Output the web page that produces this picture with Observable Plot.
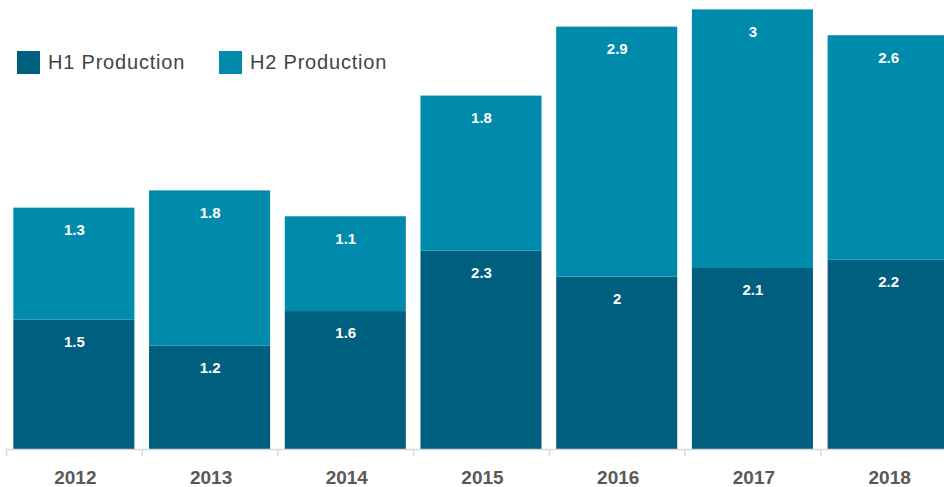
<!DOCTYPE html>
<html>
<head>
<meta charset="utf-8">
<script src="https://cdn.jsdelivr.net/npm/d3@7"></script>
<script src="https://cdn.jsdelivr.net/npm/@observablehq/plot@0.6"></script>
<style>
  html, body { margin: 0; padding: 0; background: #fff; overflow: hidden; }
  #wrap { position: relative; width: 944px; height: 487px; overflow: hidden; }
  #chart svg { max-width: none !important; display: block; }
  .legend { position: absolute; top: 51px; left: 17px; display: flex; align-items: center;
            font-family: "Liberation Sans", Arial, sans-serif; font-size: 20px; letter-spacing: 0.8px; color: #3f4448; }
  .legend .item { display: flex; align-items: center; }
  .legend .sw { width: 23px; height: 23px; margin-right: 8px; }
</style>
</head>
<body>
<div id="wrap">
  <div id="chart"></div>
  <div class="legend">
    <div class="item" style="width:202px"><div class="sw" style="background:#005e7e"></div><span>H1 Production</span></div>
    <div class="item"><div class="sw" style="background:#008bad"></div><span>H2 Production</span></div>
  </div>
</div>
<script>
const years = ["2012", "2013", "2014", "2015", "2016", "2017", "2018"];
const h1 = [1.5, 1.2, 1.6, 2.3, 2.0, 2.1, 2.2];
const h2 = [1.3, 1.8, 1.1, 1.8, 2.9, 3.0, 2.6];
const seriesNames = ["H1 Production", "H2 Production"];
const colors = ["#005e7e", "#008bad"];

const rows = [];
years.forEach((y, i) => {
  rows.push({year: y, series: seriesNames[0], value: h1[i]});
  rows.push({year: y, series: seriesNames[1], value: h2[i]});
});

const W = 956, H = 487, ML = 6, MR = 0;
const step = (W - ML - MR) / years.length;

const chart = Plot.plot({
  width: W,
  height: H,
  marginLeft: ML,
  marginRight: MR,
  marginTop: 18,
  marginBottom: 38,
  style: {fontFamily: "'Liberation Sans', Arial, sans-serif", background: "white", overflow: "hidden"},
  x: {domain: years, paddingInner: 0.108, paddingOuter: 0.054, round: false, axis: null},
  y: {domain: [0, 5], axis: null},
  color: {domain: seriesNames, range: colors},
  marks: [
    Plot.barY(rows, {x: "year", y: "value", fill: "series", order: seriesNames}),
    Plot.text(rows, Plot.stackY2({x: "year", y: "value", z: "series", order: seriesNames,
      text: d => String(d.value), fill: "white", fontWeight: "bold", fontSize: 15, dy: 22})),
    Plot.ruleY([0], {stroke: "#d9d9d9", strokeWidth: 1.5}),
    Plot.ruleX(years, {x: d => d, dx: -step / 2, y1: 0, y2: -0.08, stroke: "#d9d9d9", strokeWidth: 1.5}),
    Plot.text(years, {x: d => d, y: 0, text: d => d, dy: 28, dx: 1, fill: "#595959", fontWeight: "bold", fontSize: 19, letterSpacing: "1.8px"})
  ]
});
document.getElementById("chart").appendChild(chart);
</script>
</body>
</html>
